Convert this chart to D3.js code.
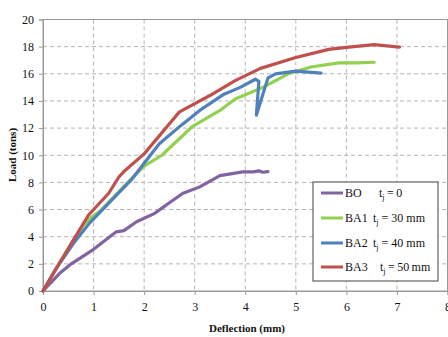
<!DOCTYPE html>
<html lang="en">
<head>
  <meta charset="UTF-8">
  <title>Load vs Deflection</title>
  <script src="https://d3js.org/d3.v7.min.js"></script>
  <style>
    body { margin: 0; background: #fff; }
    svg text { font-family: "Liberation Serif", "Times New Roman", Times, serif; fill: #111; }
    .grid line { stroke: #b4b4b4; stroke-dasharray: 4,3; }
    .axis path, .axis line { stroke: #9a9a9a; }
  </style>
</head>
<body>
<div id="chart"></div>
<script>
  // series data (x = deflection mm, y = load tons)
  const BO = [[0,0],[0.33,1.3],[0.56,2.0],[1.0,3.07],[1.45,4.36],[1.6,4.45],[1.85,5.1],[2.2,5.7],[2.5,6.5],[2.76,7.18],[3.1,7.67],[3.5,8.5],[3.95,8.77],[4.15,8.77],[4.27,8.85],[4.35,8.75],[4.45,8.8]];
  const BA1 = [[0,0],[0.3,1.9],[0.6,3.7],[0.8,4.85],[0.96,5.45],[1.15,5.95],[1.6,7.7],[2.0,9.2],[2.35,10.0],[2.95,12.1],[3.5,13.3],[3.8,14.15],[4.35,15.0],[4.85,16.0],[5.3,16.5],[5.85,16.8],[6.2,16.8],[6.55,16.85]];
  const BA2 = [[0,0],[0.25,1.6],[0.6,3.5],[0.92,5.0],[1.74,8.16],[2.3,10.85],[2.73,12.2],[3.1,13.3],[3.58,14.5],[3.9,15.0],[4.2,15.6],[4.27,15.45],[4.22,12.95],[4.45,15.7],[4.6,16.0],[5.0,16.2],[5.5,16.05]];
  const BA3 = [[0,0],[0.3,1.9],[0.6,3.75],[0.9,5.6],[1.3,7.2],[1.5,8.4],[1.6,8.8],[2.0,10.1],[2.7,13.2],[3.3,14.4],[3.8,15.5],[4.3,16.4],[5.0,17.2],[5.65,17.8],[6.0,17.95],[6.55,18.15],[7.05,17.97]];

  const seriesNames = ["BO", "BA1", "BA2", "BA3"];
  const seriesData = [BO, BA1, BA2, BA3];
  const seriesColors = ["#8064a2", "#92d050", "#4f81bd", "#c0504d"];
  const thickness = ["0", "30", "40", "50"];
  const xTicks = [0, 1, 2, 3, 4, 5, 6, 7, 8];
  const yTicks = [0, 2, 4, 6, 8, 10, 12, 14, 16, 18, 20];

  const width = 448, height = 337;
  const serif = "Liberation Serif, Times New Roman, Times, serif";
  const x = d3.scaleLinear().domain([0, 8]).range([43, 447.5]);
  const y = d3.scaleLinear().domain([0, 20]).range([291, 19.5]);

  const svg = d3.select("#chart").append("svg")
    .attr("width", width)
    .attr("height", height)
    .attr("font-family", serif);

  // dashed grid
  svg.append("g").attr("class", "grid")
    .selectAll("line").data(xTicks.slice(1, -1)).enter().append("line")
    .attr("x1", d => x(d)).attr("x2", d => x(d))
    .attr("y1", y(20)).attr("y2", y(0));
  svg.append("g").attr("class", "grid")
    .selectAll("line").data(yTicks.slice(1, -1)).enter().append("line")
    .attr("x1", x(0)).attr("x2", x(8))
    .attr("y1", d => y(d)).attr("y2", d => y(d));

  // frame
  svg.append("rect")
    .attr("x", x(0)).attr("y", y(20))
    .attr("width", x(8) - x(0)).attr("height", y(0) - y(20))
    .attr("fill", "none").attr("stroke", "#9a9a9a");

  // axes
  const xAxis = d3.axisBottom(x).tickValues(xTicks).tickFormat(d3.format("d")).tickSize(4).tickPadding(7);
  const yAxis = d3.axisLeft(y).tickValues(yTicks).tickFormat(d3.format("d")).tickSize(4).tickPadding(5);

  svg.append("g").attr("class", "axis")
    .attr("transform", `translate(0,${y(0)})`)
    .call(xAxis)
    .attr("font-family", serif).attr("font-size", 12);
  svg.append("g").attr("class", "axis")
    .attr("transform", `translate(${x(0)},0)`)
    .call(yAxis)
    .attr("font-family", serif).attr("font-size", 12);

  // lines
  const line = d3.line().x(d => x(d[0])).y(d => y(d[1]));
  svg.append("g").selectAll("path")
    .data(seriesData).enter().append("path")
    .attr("d", line)
    .attr("fill", "none")
    .attr("stroke", (d, i) => seriesColors[i])
    .attr("stroke-width", 3.2)
    .attr("stroke-linejoin", "round")
    .attr("stroke-linecap", "round");

  // axis titles
  svg.append("text")
    .attr("x", 247).attr("y", 332)
    .attr("text-anchor", "middle")
    .attr("font-weight", "bold")
    .attr("font-size", 11)
    .text("Deflection (mm)");
  svg.append("text")
    .attr("transform", "translate(16,155) rotate(-90)")
    .attr("text-anchor", "middle")
    .attr("font-weight", "bold")
    .attr("font-size", 11)
    .text("Load (tons)");

  // legend
  const legend = svg.append("g");
  legend.append("rect")
    .attr("x", 313).attr("y", 182)
    .attr("width", 125).attr("height", 99)
    .attr("fill", "#fff").attr("stroke", "#444");

  const rowY = [193, 218, 243, 267];
  const tjX = [379, 373, 373, 380];
  const sp = ["\u2009", "\u00a0", "\u00a0", "\u2009"];
  seriesNames.forEach((name, i) => {
    legend.append("line")
      .attr("x1", 321).attr("x2", 343)
      .attr("y1", rowY[i]).attr("y2", rowY[i])
      .attr("stroke", seriesColors[i]).attr("stroke-width", 3);
    legend.append("text")
      .attr("x", 345).attr("y", rowY[i] + 4)
      .attr("font-size", 12)
      .text(name);
    const t = legend.append("text")
      .attr("x", tjX[i]).attr("y", rowY[i] + 4)
      .attr("font-size", 12);
    t.append("tspan").text("t");
    t.append("tspan").attr("font-size", 8).attr("dy", 3).text("j");
    t.append("tspan").attr("dy", -3)
      .text(sp[i] + "=" + sp[i] + thickness[i] + (i > 0 ? sp[i] + "mm" : ""));
  });
</script>
</body>
</html>
